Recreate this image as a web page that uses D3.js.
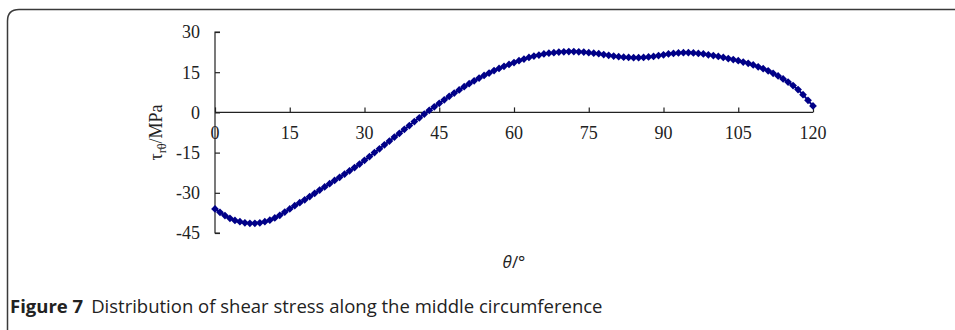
<!DOCTYPE html>
<html>
<head>
<meta charset="utf-8">
<script src="https://cdn.jsdelivr.net/npm/d3@7/dist/d3.min.js"></script>
<style>
  html, body { margin: 0; padding: 0; background: #fff; }
  svg { display: block; }
</style>
</head>
<body>
<svg id="chart" width="955" height="330"></svg>
<script>
// ---- data ----
const thetaDeg = d3.range(0, 121); // 0..120 in 1° steps (category positions)
const shearStress = [
  -36.0, -37.3, -38.5, -39.5, -40.3, -40.8, -41.2, -41.4, -41.4, -41.2,
  -40.8, -40.2, -39.4, -38.4, -37.2, -36.0, -34.8, -33.7, -32.6, -31.4,
  -30.2, -29.0, -27.8, -26.6, -25.4, -24.2, -23.0, -21.8, -20.6, -19.3,
  -17.9, -16.5, -15.0, -13.6, -12.1, -10.7, -9.2, -7.8, -6.3, -4.9,
  -3.4, -2.0, -0.6, 0.8, 2.1, 3.4, 4.7, 6.0, 7.2, 8.4,
  9.6, 10.7, 11.8, 12.8, 13.8, 14.7, 15.6, 16.4, 17.2, 17.9,
  18.6, 19.3, 19.9, 20.5, 21.0, 21.4, 21.8, 22.1, 22.3, 22.5,
  22.6, 22.7, 22.7, 22.6, 22.5, 22.3, 22.1, 21.9, 21.6, 21.3,
  21.0, 20.8, 20.6, 20.5, 20.4, 20.4, 20.5, 20.7, 20.9, 21.2,
  21.5, 21.8, 22.0, 22.2, 22.3, 22.3, 22.2, 22.0, 21.8, 21.5,
  21.2, 20.9, 20.5, 20.1, 19.7, 19.3, 18.8, 18.3, 17.7, 17.0,
  16.3, 15.5, 14.6, 13.6, 12.5, 11.3, 10.0, 8.5, 6.6, 4.5,
  2.4
];
const xTicks = [0, 15, 30, 45, 60, 75, 90, 105, 120];
const yTicks = [30, 15, 0, -15, -30, -45];
const xTitle = "θ/°";
const yTitleMain = "τ";
const yTitleSub = "rθ";
const yTitleUnit = "/MPa";
const captionBold = "Figure 7";
const captionText = "Distribution of shear stress along the middle circumference";

// ---- layout ----
const svg = d3.select("#chart");
const x = d3.scaleLinear().domain([0, 120]).range([215, 813]);
const y = d3.scaleLinear().domain([-45, 30]).range([233, 32]);
const serif = "'Liberation Serif', 'Times New Roman', serif";
const sans = "'Open Sans', 'Noto Sans', sans-serif";
const navy = "#000088";

// frame (left + top border with rounded corner)
svg.append("path")
  .attr("d", "M7.5,330 L7.5,21 Q7.5,9.5 19,9.5 L955,9.5")
  .attr("fill", "none")
  .attr("stroke", "#3a3a3a")
  .attr("stroke-width", 1.5);

// y axis
const yAxis = d3.axisRight(y).tickValues(yTicks).tickSize(5).tickFormat("");
const gy = svg.append("g").attr("transform", `translate(${x(0)},0)`).call(yAxis);
gy.select(".domain").attr("stroke", "#222").attr("stroke-width", 1.2).attr("d", `M5,${y(30)}H0V${y(-45)}H5`);
gy.selectAll(".tick line").attr("stroke", "#222").attr("stroke-width", 1.2);

// y tick labels
svg.append("g").selectAll("text").data(yTicks).join("text")
  .attr("x", 200).attr("y", d => y(d)).attr("dy", "0.35em")
  .attr("text-anchor", "end")
  .attr("font-family", serif).attr("font-size", 18).attr("fill", "#222")
  .text(d => d);

// x axis at y=0
const xAxis = d3.axisTop(x).tickValues(xTicks).tickSize(5).tickFormat("");
const gx = svg.append("g").attr("transform", `translate(0,${y(0)})`).call(xAxis);
gx.select(".domain").attr("stroke", "#222").attr("stroke-width", 1.2).attr("d", `M${x(0)},0H${x(120)}`);
gx.selectAll(".tick line").attr("stroke", "#222").attr("stroke-width", 1.2);

svg.append("g").selectAll("text").data(xTicks).join("text")
  .attr("x", d => x(d)).attr("y", y(0) + 27)
  .attr("text-anchor", "middle")
  .attr("font-family", serif).attr("font-size", 18).attr("fill", "#222")
  .text(d => d);

// line + markers
const pts = thetaDeg.map((t, i) => [t, shearStress[i]]);
svg.append("path")
  .datum(pts)
  .attr("fill", "none").attr("stroke", navy).attr("stroke-width", 2)
  .attr("d", d3.line().x(d => x(d[0])).y(d => y(d[1])));
svg.append("g").selectAll("path").data(pts).join("path")
  .attr("transform", d => `translate(${x(d[0])},${y(d[1])}) rotate(45)`)
  .attr("d", d3.symbol(d3.symbolSquare, 30))
  .attr("fill", navy);

// axis titles
svg.append("text")
  .attr("x", x(60)).attr("y", 268)
  .attr("text-anchor", "middle")
  .attr("font-family", sans).attr("font-size", 17).attr("fill", "#222")
  .call(t => {
    t.append("tspan").attr("font-style", "italic").text(xTitle.slice(0, 1));
    t.append("tspan").text(xTitle.slice(1));
  });

const yt = svg.append("text")
  .attr("transform", `translate(162,${y(0) + 20}) rotate(-90)`)
  .attr("text-anchor", "middle")
  .attr("font-family", serif).attr("font-size", 18).attr("fill", "#222");
yt.append("tspan").text(yTitleMain);
yt.append("tspan").attr("font-size", 12).attr("dy", 4).text(yTitleSub);
yt.append("tspan").attr("dy", -4).text(yTitleUnit);

// caption
const cap = svg.append("text")
  .attr("x", 10).attr("y", 313)
  .attr("font-family", sans).attr("font-size", 18.5).attr("fill", "#222");
cap.append("tspan").attr("font-weight", "bold").text(captionBold);
cap.append("tspan").attr("dx", 8).text(captionText);
</script>
</body>
</html>
